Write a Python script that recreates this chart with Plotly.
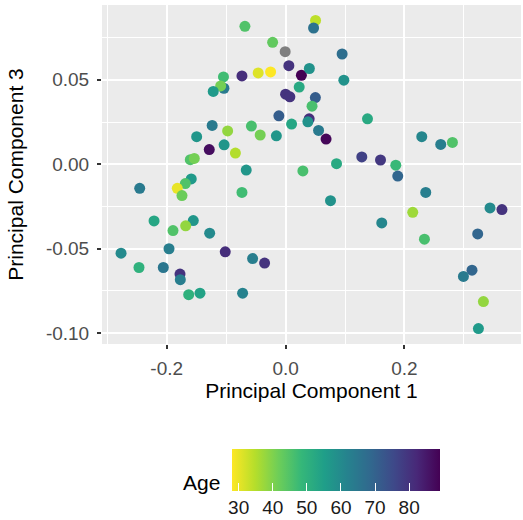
import plotly.graph_objects as go

# Principal component scores (PC1, PC3) and Age
pc1 = [-0.0684, -0.0218, 0.0055, 0.0266, 0.0400, -0.0734, -0.0461, -0.0252, -0.1045, -0.1037,
       -0.1092, -0.1217, 0.0229, 0.0000, 0.0072, -0.0113, 0.0101, -0.1235, -0.0975, -0.0575,
       -0.0427, -0.0155, -0.1496, -0.1034, -0.1284, -0.0844, -0.1603, -0.1536, -0.0662, 0.0291,
       0.0504, 0.0471, 0.0951, 0.0980, 0.0501, 0.0445, 0.0397, 0.0375, 0.1378, 0.0555,
       0.0681, 0.2291, 0.2610, 0.2807, 0.1282, 0.1597, 0.1854, 0.1887, 0.0857, 0.0756,
       0.2358, 0.2139, 0.1618, 0.2336, 0.3439, 0.3640, 0.3232, 0.3136, 0.2992, 0.3328,
       0.3244, -0.2454, -0.1587, -0.1687, -0.1822, -0.1743, -0.0734, -0.2213, -0.1553, -0.1894,
       -0.1681, -0.1277, -0.2768, -0.1961, -0.1015, -0.0555, -0.0353, -0.2466, -0.2057, -0.1776,
       -0.1771, -0.1630, -0.1440, -0.0723]
pc3 = [0.0817, 0.0722, 0.0584, 0.0527, 0.0567, 0.0523, 0.0541, 0.0547, 0.0517, 0.0450,
       0.0464, 0.0431, 0.0457, 0.0415, 0.0399, 0.0287, 0.0238, 0.0230, 0.0197, 0.0226,
       0.0173, 0.0168, 0.0163, 0.0115, 0.0087, 0.0066, 0.0027, 0.0034, -0.0035, -0.0040,
       0.0852, 0.0807, 0.0653, 0.0498, 0.0395, 0.0344, 0.0269, 0.0251, 0.0269, 0.0200,
       0.0149, 0.0163, 0.0117, 0.0129, 0.0043, 0.0025, -0.0006, -0.0070, 0.0003, -0.0216,
       -0.0167, -0.0285, -0.0348, -0.0444, -0.0259, -0.0269, -0.0413, -0.0628, -0.0665, -0.0814,
       -0.0974, -0.0143, -0.0087, -0.0115, -0.0143, -0.0186, -0.0167, -0.0336, -0.0334, -0.0393,
       -0.0365, -0.0409, -0.0527, -0.0501, -0.0519, -0.0559, -0.0586, -0.0612, -0.0612, -0.0651,
       -0.0684, -0.0773, -0.0764, -0.0764]
age = [45, 43, 80, 89, 58, 81, 31, 28, 47, 64,
       41, 56, 52, 80, 80, 71, 53, 64, 38, 46,
       41, 57, 57, 57, 87, 35, 45, 41, 57, 46,
       34, 66, 67, 58, 71, 46, 81, 58, 52, 64,
       88, 61, 63, 45, 77, 79, 48, 69, 52, 58,
       63, 37, 61, 46, 60, 80, 69, 69, 64, 38,
       56, 64, 56, 45, 30, 42, 47, 53, 57, 45,
       38, 60, 60, 63, 81, 63, 80, 50, 65, 80,
       63, 50, 54, 62]

# Sample with missing Age
na_pc1 = [-0.0007]
na_pc3 = [0.0667]

x_ticks = [-0.2, 0.0, 0.2]
x_labels = ["-0.2", "0.0", "0.2"]
y_ticks = [-0.10, -0.05, 0.00, 0.05]
y_labels = ["-0.10", "-0.05", "0.00", "0.05"]
cbar_ticks = [30, 40, 50, 60, 70, 80]

all_x = pc1 + na_pc1
all_y = pc3 + na_pc3
xr = max(all_x) - min(all_x)
yr = max(all_y) - min(all_y)
x_range = [min(all_x) - 0.05 * xr, max(all_x) + 0.05 * xr]
y_range = [min(all_y) - 0.05 * yr, max(all_y) + 0.05 * yr]

W, H = 523, 520
L, R, T, B = 102, 2, 5, 176
PW, PH = W - L - R, H - T - B
FONT = "Liberation Sans, Arial, Helvetica, sans-serif"

fig = go.Figure()
fig.add_trace(go.Scatter(
    x=na_pc1, y=na_pc3, mode="markers",
    marker=dict(size=11, color="#7F7F7F", line=dict(width=0)),
    showlegend=False, hoverinfo="skip"))
fig.add_trace(go.Scatter(
    x=pc1, y=pc3, mode="markers",
    marker=dict(
        size=11, color=age, colorscale="Viridis", reversescale=True,
        cmin=min(age), cmax=max(age), line=dict(width=0),
        colorbar=dict(
            orientation="h", xref="paper", yref="paper",
            x=(335.85 - L) / PW, xanchor="center",
            y=-(449 - (T + PH)) / PH, yanchor="top",
            len=208, lenmode="pixels", thickness=42, outlinewidth=0,
            xpad=0, ypad=0,
            ticks="inside", ticklen=8, tickwidth=1.2, tickcolor="white",
            tickvals=cbar_ticks, ticktext=[str(v) for v in cbar_ticks],
            tickfont=dict(family=FONT, size=19, color="#1A1A1A"),
        ),
    ),
    showlegend=False))

fig.add_annotation(
    text="Age", xref="paper", yref="paper",
    x=(222 - L) / PW, y=1 - (483 - T) / PH,
    xanchor="right", yanchor="middle", showarrow=False,
    font=dict(family=FONT, size=21, color="black"))

axis_common = dict(
    showgrid=True, gridcolor="white", gridwidth=2,
    zeroline=False, showline=False,
    ticks="outside", ticklen=4, tickwidth=1.5, tickcolor="#333333",
    tickfont=dict(family=FONT, size=19, color="#4D4D4D"),
    minor=dict(showgrid=True, gridcolor="white", gridwidth=1, ticks=""),
)

fig.update_xaxes(
    **axis_common, range=x_range, tickvals=x_ticks, ticktext=x_labels,
    minor_tickvals=[-0.3, -0.1, 0.1, 0.3], ticklabelstandoff=3,
    title=dict(text="Principal Component 1", font=dict(family=FONT, size=21, color="black"), standoff=5))
fig.update_yaxes(
    **axis_common, range=y_range, tickvals=y_ticks, ticktext=y_labels,
    minor_tickvals=[-0.075, -0.025, 0.025, 0.075], ticklabelstandoff=4,
    title=dict(text="Principal Component 3", font=dict(family=FONT, size=21, color="black"), standoff=16))

fig.update_layout(
    width=W, height=H,
    margin=dict(l=L, r=R, t=T, b=B, autoexpand=False),
    paper_bgcolor="white", plot_bgcolor="#EBEBEB",
    font=dict(family=FONT),
)

fig.write_html("out.html")
